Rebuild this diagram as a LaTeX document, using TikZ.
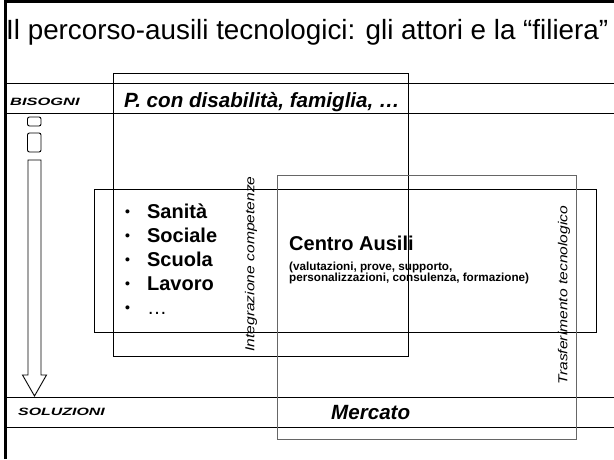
\documentclass[tikz,border=0pt]{standalone}
\usepackage{fontspec}
\usepackage{graphicx}
\setmainfont{Liberation Sans}
\usetikzlibrary{positioning}
\tikzstyle{abox}=[rectangle, draw=black, line width=0.8pt, inner sep=0pt]
\tikzstyle{gbox}=[rectangle, draw=black!60, line width=0.8pt, inner sep=0pt]
\tikzstyle{rline}=[-, line width=0.9pt]
\tikzstyle{fline}=[-, line width=3pt]
\tikzstyle{tag}=[inner sep=0pt, anchor=base west,
 font=\fontsize{10.6}{12}\selectfont\bfseries\itshape]
\tikzstyle{bigt}=[inner sep=0pt, anchor=base west,
 font=\fontsize{20.6}{24}\selectfont\bfseries\itshape]
\tikzstyle{vtxt}=[inner sep=0pt, rotate=90, font=\fontsize{13}{15}\selectfont\itshape]
\tikzstyle{blk}=[rectangle, rounded corners=2pt, draw=black, line width=0.9pt]
\newcommand{\xstretch}[2]{\scalebox{#1}[1]{#2}}
\newcommand{\bul}{\raisebox{2pt}{\fontsize{14}{14}\selectfont\textbullet}}

\begin{document}
\begin{tikzpicture}[x=1pt,y=-1pt]
\useasboundingbox (0,0) rectangle (614,459);

% frame and rows
\coordinate (TL) at (5.5,1.5);
\coordinate (TR) at (614,1.5);
\coordinate (BL) at (5.5,459);
\draw[fline] (BL) -- (TL) -- (TR);
\coordinate (R1a) at (5.5,83);  \coordinate (R1b) at (614,83);
\coordinate (R2a) at (5.5,113); \coordinate (R2b) at (614,113);
\coordinate (R3a) at (5.5,397); \coordinate (R3b) at (614,397);
\coordinate (R4a) at (5.5,427); \coordinate (R4b) at (614,427);
\draw[rline] (R1a) -- (R1b);
\draw[rline] (R2a) -- (R2b);
\draw[rline] (R3a) -- (R3b);
\draw[rline] (R4a) -- (R4b);

\node (TITLE) [inner sep=0pt, anchor=base west, font=\fontsize{27.8}{32}\selectfont]
 at (6,39) {Il percorso-ausili tecnologici: gli attori e la “filiera”};

% boxes
\node (PBOX) [abox, minimum width=295pt, minimum height=283pt] at (260.5,214.5) {};
\node (WBOX) [abox, minimum width=502pt, minimum height=143pt] at (345,260.5) {};
\node (CBOX) [gbox, minimum width=299pt, minimum height=264pt] at (426.5,307) {};

% left arrow
\draw[blk] (27.5,117) rectangle (41,126);
\draw[blk] (27.5,133) rectangle (41,152);
\draw[line width=0.9pt] (28,160) -- (41,160) -- (41,375) -- (46.5,375) -- (34.5,396)
 -- (22.5,375) -- (28,375) -- cycle;

\node (BIS) [tag] at (10,105.8) {\xstretch{1.55}{BISOGNI}};
\node (SOL) [tag] at (18,415.8) {\xstretch{1.5}{SOLUZIONI}};
\node (PERS) [bigt] at (124,107) {P. con disabilità, famiglia, …};
\node (MERC) [bigt] at (331,419) {Mercato};

\node (LIST) [inner sep=0pt, anchor=north west, font=\fontsize{20}{24}\selectfont\bfseries]
 at (125,201) {\begin{tabular}{@{}l@{\hspace{17pt}}l@{}}
 \bul & Sanità\\ \bul & Sociale\\ \bul & Scuola\\ \bul & Lavoro\\ \bul & \mdseries …
 \end{tabular}};

\node (CENTRO) [inner sep=0pt, anchor=base west, font=\fontsize{20}{24}\selectfont\bfseries]
 at (289,250) {Centro Ausili};
\node (CSUB) [inner sep=0pt, anchor=north west, align=left,
 font=\fontsize{11.7}{11}\selectfont\bfseries] at (289,262)
 {(valutazioni, prove, supporto,\\personalizzazioni, consulenza, formazione)};

\node (INTEG) [vtxt] at (251,264) {\xstretch{1.2}{Integrazione competenze}};
\node (TRASF) [vtxt] at (564,295) {\xstretch{1.2}{Trasferimento tecnologico}};

\end{tikzpicture}
\end{document}
